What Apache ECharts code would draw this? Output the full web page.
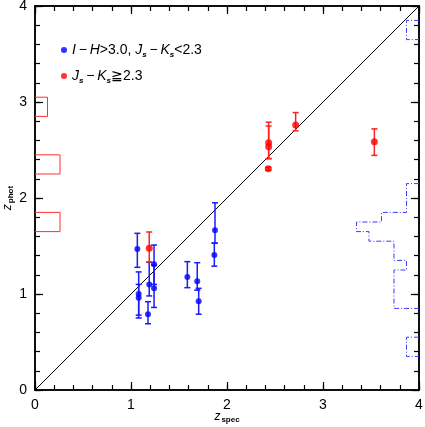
<!DOCTYPE html>
<html>
<head>
<meta charset="utf-8">
<script src="https://cdn.jsdelivr.net/npm/echarts@6/dist/echarts.min.js"></script>
<style>html,body{margin:0;padding:0;background:#fff}#c{width:425px;height:427px}</style>
</head>
<body>
<div id="c"></div>
<script>
// ---- data ----
const xTicks = [0, 1, 2, 3, 4];
const yTicks = [0, 1, 2, 3, 4];
// blue sample: I-H>3.0, Js-Ks<2.3
const blueZspec = [1.066, 1.08, 1.08, 1.177, 1.19, 1.24, 1.24, 1.587, 1.69, 1.705, 1.868, 1.875];
const blueZphot = [1.469, 1.00, 0.96, 0.79, 1.10, 1.31, 1.06, 1.177, 1.132, 0.924, 1.406, 1.663];
const blueLo    = [1.278, 0.78, 0.75, 0.69, 0.98, 1.10, 0.86, 1.066, 1.04, 0.79, 1.29, 1.53];
const blueHi    = [1.632, 1.23, 1.10, 0.92, 1.33, 1.51, 1.30, 1.337, 1.326, 1.059, 1.53, 1.95];
// red sample: Js-Ks>=2.3
const redZspec = [1.19, 2.434, 2.434, 2.43, 2.715, 3.535];
const redZphot = [1.476, 2.576, 2.535, 2.305, 2.76, 2.587];
const redLo    = [1.333, 2.41, 2.41, 2.29, 2.70, 2.444];
const redHi    = [1.646, 2.79, 2.75, 2.32, 2.89, 2.72];
// histograms (bin lower edge, upper edge, count)
const redHistLo    = [2.85, 2.25, 1.65];
const redHistHi    = [3.05, 2.45, 1.85];
const redHistCount = [1, 2, 2];
const blueHistLo    = [3.65, 1.85, 1.75, 1.65, 1.55, 1.35, 1.25, 0.85, 0.35];
const blueHistHi    = [3.85, 2.15, 1.85, 1.75, 1.65, 1.55, 1.35, 1.25, 0.55];
const blueHistCount = [1, 1, 3, 5, 4, 2, 1, 2, 1];

// ---- helpers ----
function rows(x, y, lo, hi) { return x.map((v, i) => [v, y[i], lo[i], hi[i]]); }
function histOutline(lo, hi, cnt) {
  const bins = lo.map((l, i) => ({lo: l, hi: hi[i], c: cnt[i]})).sort((a, b) => b.hi - a.hi);
  const pts = [];
  let prev = null;
  bins.forEach(b => {
    if (prev && Math.abs(prev.lo - b.hi) < 1e-9) {
      pts.push([b.c, b.hi]);
    } else {
      if (prev) { pts.push([0, prev.lo]); pts.push(null); }
      pts.push([0, b.hi]); pts.push([b.c, b.hi]);
    }
    pts.push([b.c, b.lo]);
    prev = b;
  });
  if (prev) pts.push([0, prev.lo]);
  return pts.map(p => p === null ? [null, null] : p);
}
function errBar(color) {
  return function (params, api) {
    const x = api.value(0), lo = api.value(2), hi = api.value(3);
    const t = api.coord([x, hi]), b = api.coord([x, lo]);
    const w = 3;
    const st = {stroke: color, lineWidth: 1.5};
    return {type: 'group', children: [
      {type: 'line', shape: {x1: t[0], y1: t[1], x2: b[0], y2: b[1]}, style: st},
      {type: 'line', shape: {x1: t[0] - w, y1: t[1], x2: t[0] + w, y2: t[1]}, style: st},
      {type: 'line', shape: {x1: b[0] - w, y1: b[1], x2: b[0] + w, y2: b[1]}, style: st}
    ]};
  };
}

const FONT = 'Liberation Sans';
function axis(pos, interval, tickLen, extra) {
  return Object.assign({
    type: 'value', min: 0, max: 4, interval: interval, position: pos,
    axisLine: {show: true, onZero: false, lineStyle: {color: '#000', width: 1.5}},
    axisTick: {show: true, inside: true, length: tickLen, lineStyle: {color: '#000', width: 1.2}},
    axisLabel: {show: false},
    splitLine: {show: false}
  }, extra || {});
}
const nameRich = {
  z: {fontFamily: FONT, fontSize: 12, fontStyle: 'italic', color: '#000'},
  s: {fontFamily: FONT, fontSize: 8, fontWeight: 'bold', color: '#000', verticalAlign: 'bottom', padding: [6, 0, 0, 1]}
};
const legRich = {
  n: {fontFamily: FONT, fontSize: 14, color: '#000', lineHeight: 18},
  i: {fontFamily: FONT, fontSize: 14, fontStyle: 'italic', color: '#000', lineHeight: 18},
  s: {fontFamily: FONT, fontSize: 8, fontWeight: 'bold', fontStyle: 'italic', color: '#000', verticalAlign: 'bottom', padding: [8, 0, 0, 0], lineHeight: 18}
};
const tickLabel = list => ({show: true, color: '#000', fontFamily: FONT, fontSize: 14, margin: 8,
  formatter: v => list.includes(v) ? String(v) : ''});

const chart = echarts.init(document.getElementById('c'), null, {renderer: 'canvas'});
chart.setOption({
  animation: false,
  backgroundColor: '#fff',
  grid: {left: 35, right: 6, top: 6, bottom: 37, containLabel: false, outerBoundsMode: 'none'},
  legend: {
    orient: 'vertical', left: 56, top: 38, itemGap: 10,
    itemWidth: 6, itemHeight: 6,
    data: [
      {name: 'blue', icon: 'circle'},
      {name: 'red', icon: 'circle'}
    ],
    formatter: function (n) {
      if (n === 'blue') return '{i|I}{n|\u2009−\u2009}{i|H}{n|>3.0, }{i|J}{s|s}{n|\u2009−\u2009}{i|K}{s|s}{n|<2.3}';
      return '{i|J}{s|s}{n|\u2009−\u2009}{i|K}{s|s}{n|≧2.3}';
    },
    textStyle: {rich: legRich}
  },
  xAxis: [
    axis('bottom', 1, 8, {
      axisLabel: tickLabel(xTicks),
      name: '{z|z}{s|spec}', nameLocation: 'middle', nameGap: 20, nameMoveOverlap: false,
      nameTextStyle: {rich: nameRich}
    }),
    axis('top', 1, 8),
    axis('bottom', 0.2, 5),
    axis('top', 0.2, 5),
    {type: 'value', min: 0, max: 30.7, show: false},
    {type: 'value', min: 0, max: 30.7, show: false, inverse: true}
  ],
  yAxis: [
    axis('left', 1, 8, {
      axisLabel: tickLabel(yTicks),
      name: '{z|z}{s|phot}', nameLocation: 'middle', nameGap: 20, nameRotate: 90, nameMoveOverlap: false,
      nameTextStyle: {rich: nameRich}
    }),
    axis('right', 1, 8),
    axis('left', 0.2, 5),
    axis('right', 0.2, 5)
  ],
  series: [
    {type: 'line', name: 'diag', xAxisIndex: 0, yAxisIndex: 0, data: [[0, 0], [4, 4]],
      showSymbol: false, symbol: 'none', lineStyle: {color: '#000', width: 1}, silent: true, z: 1},
    {type: 'line', name: 'redHist', xAxisIndex: 4, yAxisIndex: 0,
      data: histOutline(redHistLo, redHistHi, redHistCount), connectNulls: false,
      symbol: 'none', lineStyle: {color: '#ff3030', width: 1}, silent: true, z: 2},
    {type: 'line', name: 'blueHist', xAxisIndex: 5, yAxisIndex: 0,
      data: histOutline(blueHistLo, blueHistHi, blueHistCount), connectNulls: false,
      symbol: 'none', lineStyle: {color: '#3a3aff', width: 1, type: [5, 2, 1, 2]}, silent: true, z: 2},
    {type: 'custom', name: 'blueErr', xAxisIndex: 0, yAxisIndex: 0,
      data: rows(blueZspec, blueZphot, blueLo, blueHi), renderItem: errBar('#1a1aff'),
      encode: {x: 0, y: [2, 3]}, z: 3},
    {type: 'custom', name: 'redErr', xAxisIndex: 0, yAxisIndex: 0,
      data: rows(redZspec, redZphot, redLo, redHi), renderItem: errBar('#ff2020'),
      encode: {x: 0, y: [2, 3]}, z: 3},
    {type: 'scatter', name: 'blue', xAxisIndex: 0, yAxisIndex: 0,
      data: blueZspec.map((v, i) => [v, blueZphot[i]]), symbol: 'circle', symbolSize: 6,
      itemStyle: {color: '#0000ff'}, z: 4},
    {type: 'scatter', name: 'red', xAxisIndex: 0, yAxisIndex: 0,
      data: redZspec.map((v, i) => [v, redZphot[i]]), symbol: 'circle', symbolSize: 7,
      itemStyle: {color: '#ff0000'}, z: 4}
  ]
});
</script>
</body>
</html>
